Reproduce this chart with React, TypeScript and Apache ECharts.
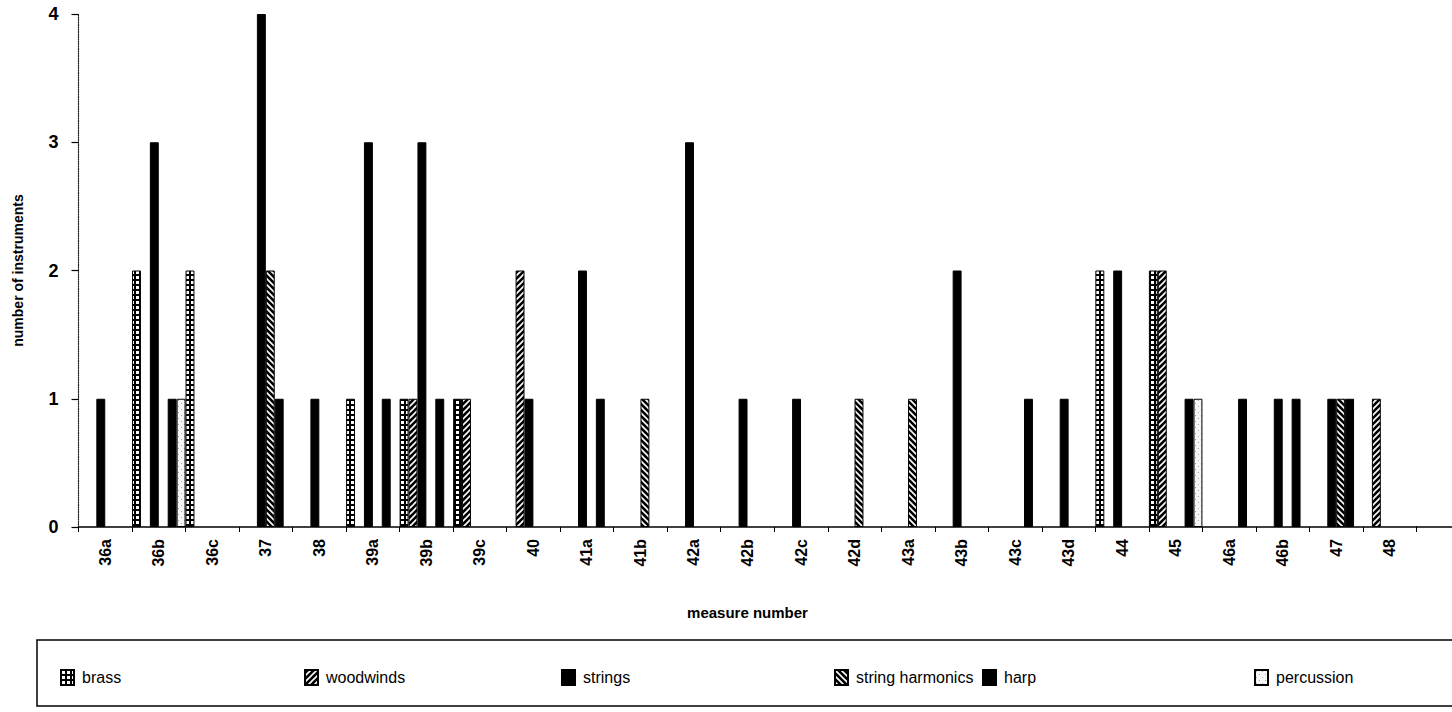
import React, { useEffect, useRef } from 'react';
import * as echarts from 'echarts';

const categories = ['36a','36b','36c','37','38','39a','39b','39c','40','41a','41b','42a','42b','42c','42d','43a','43b','43c','43d','44','45','46a','46b','47','48'];
const brass =      [0,2,2,0,0,1,1,1,0,0,0,0,0,0,0,0,0,0,0,2,2,0,0,0,0];
const woodwinds =  [0,0,0,0,0,0,1,1,2,0,0,0,0,0,0,0,0,0,0,0,2,0,0,0,1];
const strings =    [1,3,0,4,1,3,3,0,1,2,0,3,1,1,0,0,2,0,1,2,0,0,1,1,0];
const harmonics =  [0,0,0,2,0,0,0,0,0,0,1,0,0,0,1,1,0,0,0,0,0,0,0,1,0];
const harp =       [0,1,0,1,0,1,1,0,0,1,0,0,0,0,0,0,0,1,0,0,1,1,1,1,0];
const percussion = [0,1,0,0,0,0,0,0,0,0,0,0,0,0,0,0,0,0,0,0,1,0,0,0,0];
const yTicks = [0, 1, 2, 3, 4];
const seriesNames = ['brass', 'woodwinds', 'strings', 'string harmonics', 'harp', 'percussion'];
const legendLefts = [55, 299, 556, 829, 977, 1249];

const FONT = '"Liberation Sans", Arial, Helvetica, sans-serif';

function makePattern(kind: string): any {
  const c = document.createElement('canvas');
  const s = kind === 'brass' ? 5 : 6;
  c.width = s; c.height = s;
  const ctx = c.getContext('2d')!;
  if (kind === 'brass') {
    ctx.fillStyle = '#000'; ctx.fillRect(0, 0, s, s);
    ctx.fillStyle = '#fff'; ctx.fillRect(1, 1, 3, 3);
  } else if (kind === 'woodwinds' || kind === 'harmonics') {
    ctx.fillStyle = '#000'; ctx.fillRect(0, 0, s, s);
    ctx.strokeStyle = '#fff'; ctx.lineWidth = 1.6;
    ctx.beginPath();
    if (kind === 'woodwinds') {
      ctx.moveTo(-1, 7); ctx.lineTo(7, -1);
      ctx.moveTo(-1, 1); ctx.lineTo(1, -1);
      ctx.moveTo(5, 7); ctx.lineTo(7, 5);
    } else {
      ctx.moveTo(-1, -1); ctx.lineTo(7, 7);
      ctx.moveTo(5, -1); ctx.lineTo(7, 1);
      ctx.moveTo(-1, 5); ctx.lineTo(1, 7);
    }
    ctx.stroke();
  } else {
    ctx.fillStyle = '#f5f5f5'; ctx.fillRect(0, 0, s, s);
    ctx.fillStyle = '#aaa'; ctx.fillRect(1, 1, 1, 1); ctx.fillRect(4, 4, 1, 1);
  }
  return { image: c, repeat: 'repeat', imageWidth: s, imageHeight: s };
}

export default function App() {
  const ref = useRef<HTMLDivElement>(null);
  useEffect(() => {
    const chart = echarts.init(ref.current!, null, { renderer: 'svg' });
    const colors: any[] = [
      makePattern('brass'),
      makePattern('woodwinds'),
      '#000',
      makePattern('harmonics'),
      '#000',
      makePattern('percussion'),
    ];
    const values = [brass, woodwinds, strings, harmonics, harp, percussion];
    const series = seriesNames.map((name, i) => ({
      name,
      type: 'bar',
      barGap: '0%',
      barCategoryGap: '0%',
      data: values[i].map((v) => (v === 0 ? '-' : v)),
      itemStyle: { color: colors[i], borderColor: '#000', borderWidth: 1 },
    }));
    const legends = seriesNames.map((name, i) => ({
      data: [name],
      left: legendLefts[i],
      top: 664,
      itemWidth: 13,
      itemHeight: 15,
      icon: 'rect',
      selectedMode: false,
      textStyle: { fontSize: 16, fontFamily: FONT, color: '#000', padding: [0, 0, 0, 3] },
    }));
    chart.setOption({
      animation: false,
      backgroundColor: '#fff',
      grid: { left: 78.5, right: 35.5, top: 14, bottom: 185 },
      legend: legends,
      xAxis: {
        type: 'category',
        data: categories,
        axisLine: { lineStyle: { color: '#000', width: 1.5 } },
        axisTick: { show: true, length: 5, lineStyle: { color: '#000' } },
        axisLabel: { rotate: 90, fontSize: 16, fontWeight: 'bold', color: '#000', fontFamily: FONT, margin: 12 },
        name: 'measure number',
        nameLocation: 'middle',
        nameGap: 78,
        nameTextStyle: { fontSize: 15, fontWeight: 'bold', color: '#000', fontFamily: FONT },
      },
      yAxis: {
        type: 'value',
        min: yTicks[0],
        max: yTicks[yTicks.length - 1],
        interval: 1,
        axisLine: { show: true, lineStyle: { color: '#222', type: 'dotted', width: 1.2 } },
        axisTick: { show: true, length: 7, lineStyle: { color: '#000', width: 1.2 } },
        splitLine: { show: false },
        axisLabel: { fontSize: 18, fontWeight: 'bold', color: '#000', fontFamily: FONT, margin: 20 },
        name: 'number of instruments',
        nameLocation: 'middle',
        nameGap: 54,
        nameTextStyle: { fontSize: 14, fontWeight: 'bold', color: '#000', fontFamily: FONT },
      },
      graphic: [
        { type: 'rect', silent: true, shape: { x: 37, y: 640, width: 1440, height: 66 }, style: { fill: 'none', stroke: '#000', lineWidth: 1.5 } },
        { type: 'line', silent: true, shape: { x1: 1416, y1: 527, x2: 1452, y2: 527 }, style: { stroke: '#000', lineWidth: 1.5 } },
      ],
      series,
    });
    return () => chart.dispose();
  }, []);
  return <div ref={ref} style={{ position: 'fixed', left: 0, top: 0, width: 1452, height: 712 }} />;
}
